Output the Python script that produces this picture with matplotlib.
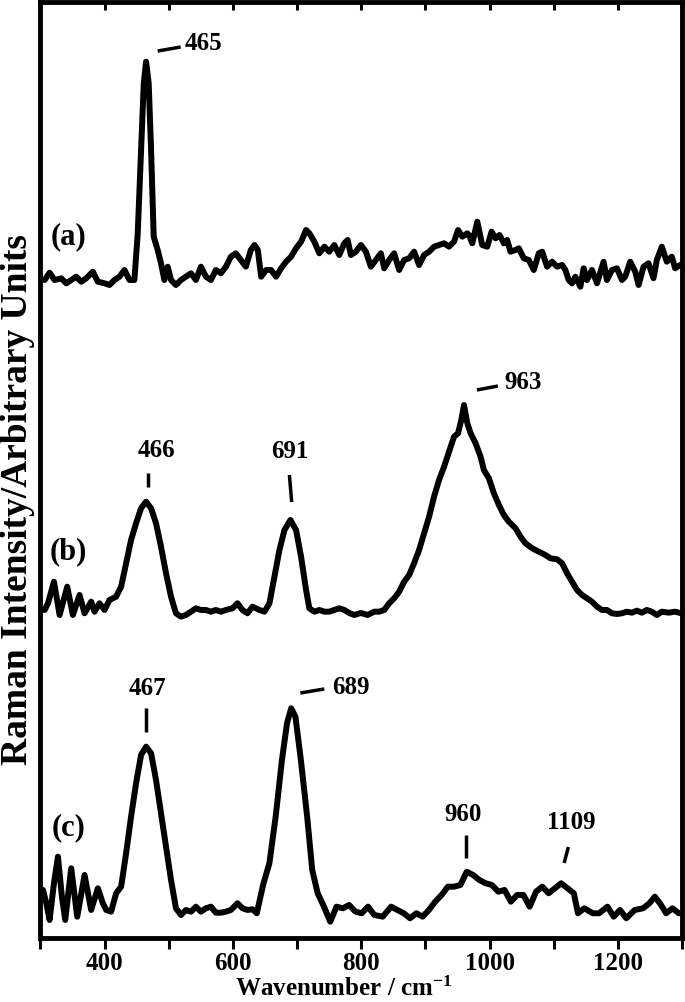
import matplotlib
matplotlib.use("Agg")
import matplotlib.pyplot as plt
import numpy as np

plt.rcParams["font.family"] = ["Liberation Serif", "DejaVu Serif"]
plt.rcParams["font.weight"] = "bold"
plt.rcParams["mathtext.fontset"] = "custom"
plt.rcParams["mathtext.rm"] = "Liberation Serif:bold"
plt.rcParams["mathtext.default"] = "rm"

# ---- spectrum (a) ----
wn_a = [306.5, 314.2, 322.0, 332.4, 340.2, 348.0, 355.7, 363.5, 371.3, 381.6,
        389.4, 399.8, 407.6, 415.3, 423.1, 430.9, 438.7, 446.4, 451.6, 456.8,
        461.0, 464.6, 468.7, 472.4, 476.5, 482.7, 487.9, 493.1, 498.3, 503.5,
        511.2, 519.0, 526.8, 534.6, 542.3, 550.1, 557.9, 565.7, 573.4, 581.2,
        589.0, 596.8, 604.5, 612.3, 620.1, 627.9, 633.6, 638.8, 644.0, 651.7,
        659.5, 667.3, 675.1, 682.8, 690.6, 698.4, 706.2, 714.0, 719.1, 726.9,
        734.7, 742.5, 750.2, 758.0, 765.8, 773.6, 778.8, 783.9, 791.7, 799.5,
        807.3, 815.0, 822.8, 830.6, 835.8, 843.6, 851.3, 859.1, 866.9, 874.7,
        882.4, 890.2, 898.0, 905.8, 913.5, 921.3, 929.1, 936.9, 944.6, 950.9,
        957.6, 965.4, 967.9, 973.1, 980.9, 988.6, 996.4, 1003.2, 1009.4, 1015.6,
        1022.3, 1027.5, 1032.7, 1040.5, 1045.7, 1053.4, 1061.2, 1069.0, 1076.8, 1082.0,
        1089.7, 1097.5, 1105.3, 1113.1, 1118.2, 1123.4, 1128.6, 1133.8, 1141.6, 1146.7,
        1151.9, 1159.7, 1167.5, 1177.8, 1183.0, 1190.8, 1198.6, 1206.4, 1211.5, 1219.3,
        1227.1, 1232.3, 1240.1, 1247.8, 1255.6, 1260.8, 1268.6, 1276.3, 1284.1, 1289.3,
        1297.0]
int_a = [0, 7.3, 0, 1.7, -3.3, 0, 3.3, -1.7, 1.7, 8.3,
         -1.7, -3.3, -5, 0, 3.3, 10, 0, 0, 46.7, 130,
         196.7, 218.3, 196.7, 130, 43.3, 30, 16.7, 0, 13.3, 0,
         -5, 0, 3.3, 6.7, 0, 13.3, 3.3, 0, 10, 6.7,
         13.3, 23.3, 26.7, 20, 13.3, 30, 35, 30, 3.3, 10,
         10, 3.3, 11.7, 18.3, 23.3, 31.7, 38.3, 50, 46.7, 38.3,
         26.7, 33.3, 28.3, 35, 25, 36.7, 40, 25, 28.3, 35,
         28.3, 13.3, 20, 26.7, 11.7, 20, 26.7, 10, 20, 21.7,
         28.3, 15, 25, 28.3, 33.3, 35, 36.7, 33.3, 38.3, 50,
         43.3, 46.7, 45, 36.7, 58.3, 35, 33.3, 48.3, 41.7, 45,
         36.7, 40, 28.3, 30, 31.7, 21.7, 20, 10, 26.7, 28.3,
         13.3, 18.3, 13.3, 15, 10, 0, -3.3, 3.3, -6.7, 11.7,
         0, 10, -3.3, 18.3, 0, 10, 11.7, 0, 3.3, 18.3,
         8.3, -5, 13.3, 16.7, 1.7, 20, 33.3, 18.3, 23.3, 11.7,
         15]

# ---- spectrum (b) ----
wn_b = [306.5, 311.7, 321.0, 329.8, 341.7, 350.5, 360.9, 368.7, 379.0, 384.2,
        392.0, 399.8, 407.6, 417.9, 425.7, 433.5, 441.2, 449.0, 456.8, 464.6,
        472.4, 480.1, 487.9, 495.7, 503.5, 511.2, 519.0, 526.8, 534.6, 542.3,
        550.1, 557.9, 565.7, 573.4, 581.2, 589.0, 599.4, 607.1, 614.9, 622.7,
        630.5, 641.4, 649.2, 656.9, 664.7, 672.5, 680.3, 689.6, 698.4, 706.2,
        714.0, 719.1, 726.9, 734.7, 742.5, 750.2, 758.0, 765.8, 773.6, 781.3,
        789.1, 799.5, 809.9, 820.2, 828.0, 835.8, 843.6, 851.3, 859.1, 866.9,
        874.7, 882.4, 890.2, 898.0, 905.8, 913.5, 921.3, 929.1, 936.9, 944.6,
        950.9, 956.0, 960.2, 965.4, 970.5, 978.3, 986.0, 991.2, 999.0, 1006.8,
        1014.6, 1022.3, 1030.1, 1040.5, 1048.3, 1056.0, 1066.4, 1076.8, 1087.1, 1094.9,
        1105.3, 1113.1, 1120.8, 1128.6, 1136.4, 1144.2, 1151.9, 1159.7, 1167.5, 1175.3,
        1183.0, 1190.8, 1198.6, 1206.4, 1214.1, 1221.9, 1229.7, 1237.5, 1245.2, 1253.0,
        1260.8, 1268.6, 1279.0, 1289.3, 1297.0]
int_b = [3, 9.7, 31.3, -2, 26.3, -2, 18, -0.3, 11.3, 1.3,
         9.7, 3, 13, 16.3, 26.3, 49.7, 73, 89.7, 104.7, 111.3,
         104.7, 89.7, 66.3, 39.7, 16.3, -0.3, -3.7, -2, 1.3, 4.7,
         3, 3, 1.3, 3, 1.3, 3, 4.7, 9.7, 3, -0.3,
         6.3, 3, 1.3, 9.7, 36.3, 63, 83, 93, 83, 56.3,
         23, 4.7, 1.3, 3, 1.3, 1.3, 3, 4.7, 3, 0,
         -2, 0, -2, 1.3, 1.3, 3, 9.7, 14.7, 21.3, 31.3,
         38, 49.7, 63, 79.7, 96.3, 116.3, 133, 146.3, 161.3, 176.3,
         179.7, 193, 208, 189.7, 179.7, 169.7, 156.3, 143, 134.7, 119.7,
         108, 98, 91.3, 84.7, 76.3, 69.7, 64.7, 61.3, 58, 54.7,
         53.7, 49.7, 39.7, 31.3, 23, 18, 14.7, 11.3, 6.3, 3,
         3, -0.3, -1, -0.3, 1.3, 0.3, 2.3, 0.3, 3, 1.3,
         -2, 1.3, 0.3, 1.3, 0]

# ---- spectrum (c) ----
wn_c = [303.9, 309.1, 314.2, 321.0, 327.2, 333.4, 338.6, 347.9, 357.3, 368.7,
        379.0, 389.4, 397.2, 402.4, 410.1, 417.9, 425.7, 433.5, 441.2, 449.0,
        456.8, 464.6, 472.4, 480.1, 487.9, 495.7, 503.5, 511.2, 519.0, 526.8,
        534.6, 542.3, 550.1, 557.9, 565.7, 573.4, 581.2, 589.0, 596.8, 607.1,
        614.9, 622.7, 630.5, 637.2, 647.0, 656.8, 666.6, 676.4, 684.3, 690.8,
        697.4, 705.9, 715.7, 723.6, 732.1, 741.9, 751.7, 761.5, 771.4, 781.2,
        791.0, 800.8, 810.6, 820.4, 833.5, 846.6, 856.4, 866.3, 876.1, 885.9,
        895.7, 905.5, 915.4, 925.2, 935.0, 944.8, 954.6, 964.5, 974.3, 984.1,
        993.9, 1003.7, 1013.6, 1023.4, 1033.2, 1043.0, 1052.8, 1062.6, 1072.5, 1082.3,
        1092.1, 1101.9, 1111.7, 1121.6, 1131.4, 1137.9, 1147.8, 1160.8, 1170.7, 1183.8,
        1193.6, 1203.4, 1213.2, 1226.3, 1239.4, 1249.2, 1257.7, 1265.6, 1275.4, 1285.2,
        1295.0]
int_c = [22, 8.7, -8, 28.7, 55.3, 15.3, -8, 43.7, -4.7, 37,
         2, 23.7, 8.7, 2, 0.3, 18.7, 25.3, 58.7, 95.3, 128.7,
         157, 165.3, 158.7, 132, 98.7, 65.3, 32, 3.7, -3, 2,
         0.3, 5.3, 0.3, 3.7, 5.3, -0.7, -0.7, 0.3, 2, 8.7,
         3.7, 2, 2.7, -1.3, 27, 48.7, 95.3, 152, 188.7, 203.7,
         195.3, 152, 95.3, 42, 18.7, 5.3, -9.7, 5.3, 3.7, 7,
         0.3, -1.3, 5.3, -3, -4.7, 5.3, 2, -1.3, -6.3, -1.3,
         -4.7, 2, 10.3, 17, 25.3, 25.3, 27, 40.3, 37, 32,
         28.7, 27, 20.3, 22, 10.3, 17, 17, 5.3, 20.3, 25.3,
         18.7, 23.7, 28.7, 23.7, 18.7, -1.3, 3.7, -1.3, -1.3, 5.3,
         -4.7, 2, -6.3, 2, 3.7, 8.7, 15.3, 8.7, -1.3, 3.7,
         -1.3]

# vertical offsets of the stacked traces
offsets = {"a": 658, "b": 325, "c": 26}
panel_labels = ["(a)", "(b)", "(c)"]
panel_label_height = [43, 61, 84]   # above each trace's baseline

# peak labels: (text, spectrum, label x, label y above baseline, tick from, tick to)
peak_labels = [
    ("465", "a", 524, 237, (482.7, 229), (518.5, 233)),
    ("466", "b", 481, 162, (467.0, 140), (467.0, 126)),
    ("691", "b", 688.8, 161, (688.0, 138), (691.6, 111)),
    ("963", "b", 1022.5, 230, (980.4, 223), (1013.0, 227)),
    ("467", "c", 467.2, 223, (464.9, 204), (464.9, 180)),
    ("689", "c", 754.9, 224, (705.1, 219), (742.5, 223)),
    ("960", "c", 959.4, 97, (963.3, 77), (963.3, 54)),
    ("1109", "c", 1128.0, 89, (1122.9, 65), (1116.3, 49)),
]


def plot_spectra():
    fig = plt.figure(figsize=(6.85, 10.02), dpi=100)
    ax = fig.add_axes([0.0591, 0.0639, 0.9365, 0.9341])

    spectra = {"a": (wn_a, int_a), "b": (wn_b, int_b), "c": (wn_c, int_c)}
    for key, (wn, inten) in spectra.items():
        y = np.array(inten) + offsets[key]
        ax.plot(wn, y, color="black", lw=4.3, solid_joinstyle="round",
                solid_capstyle="round")

    for key, lab, h in zip(["a", "b", "c"], panel_labels, panel_label_height):
        ax.text(343, offsets[key] + h, lab, fontsize=22, fontweight="bold",
                ha="center", va="center")

    for txt, key, lx, ly, p0, p1 in peak_labels:
        off = offsets[key]
        ha = "left" if p0[0] != p1[0] and abs(p1[1] - p0[1]) < 10 else "center"
        ax.text(lx, ly + off, txt, fontsize=18, fontweight="bold",
                ha=ha, va="center")
        ax.plot([p0[0], p1[0]], [p0[1] + off, p1[1] + off], color="black",
                lw=2.5, solid_capstyle="butt")

    ax.set_xlim(300, 1300)
    ax.set_ylim(0, 936)
    ax.set_xticks([400, 600, 800, 1000, 1200])
    ax.set_xticks([300, 500, 700, 900, 1100, 1300], minor=True)
    ax.set_yticks([])
    ax.tick_params(axis="x", which="both", direction="out", length=8, width=2.2,
                   labelsize=18, pad=2)
    for s in ax.spines.values():
        s.set_linewidth(3.5)

    # short inward ticks along the top edge
    top = ax.secondary_xaxis("top")
    top.set_xticks(np.arange(400, 1300, 100))
    top.tick_params(direction="in", length=6, width=2.2, labeltop=False)
    top.spines["top"].set_visible(False)

    ax.set_xlabel("Wavenumber / cm$^{-1}$", fontsize=18, fontweight="bold")
    ax.xaxis.set_label_coords(0.473, -0.041)
    ax.set_ylabel("Raman Intensity/Arbitrary Units", fontsize=27, fontweight="bold")
    ax.yaxis.set_label_coords(-0.008, 0.468)

    fig.savefig("out.png", dpi=100)
    print("saved out.png")


if __name__ == "__main__":
    plot_spectra()
